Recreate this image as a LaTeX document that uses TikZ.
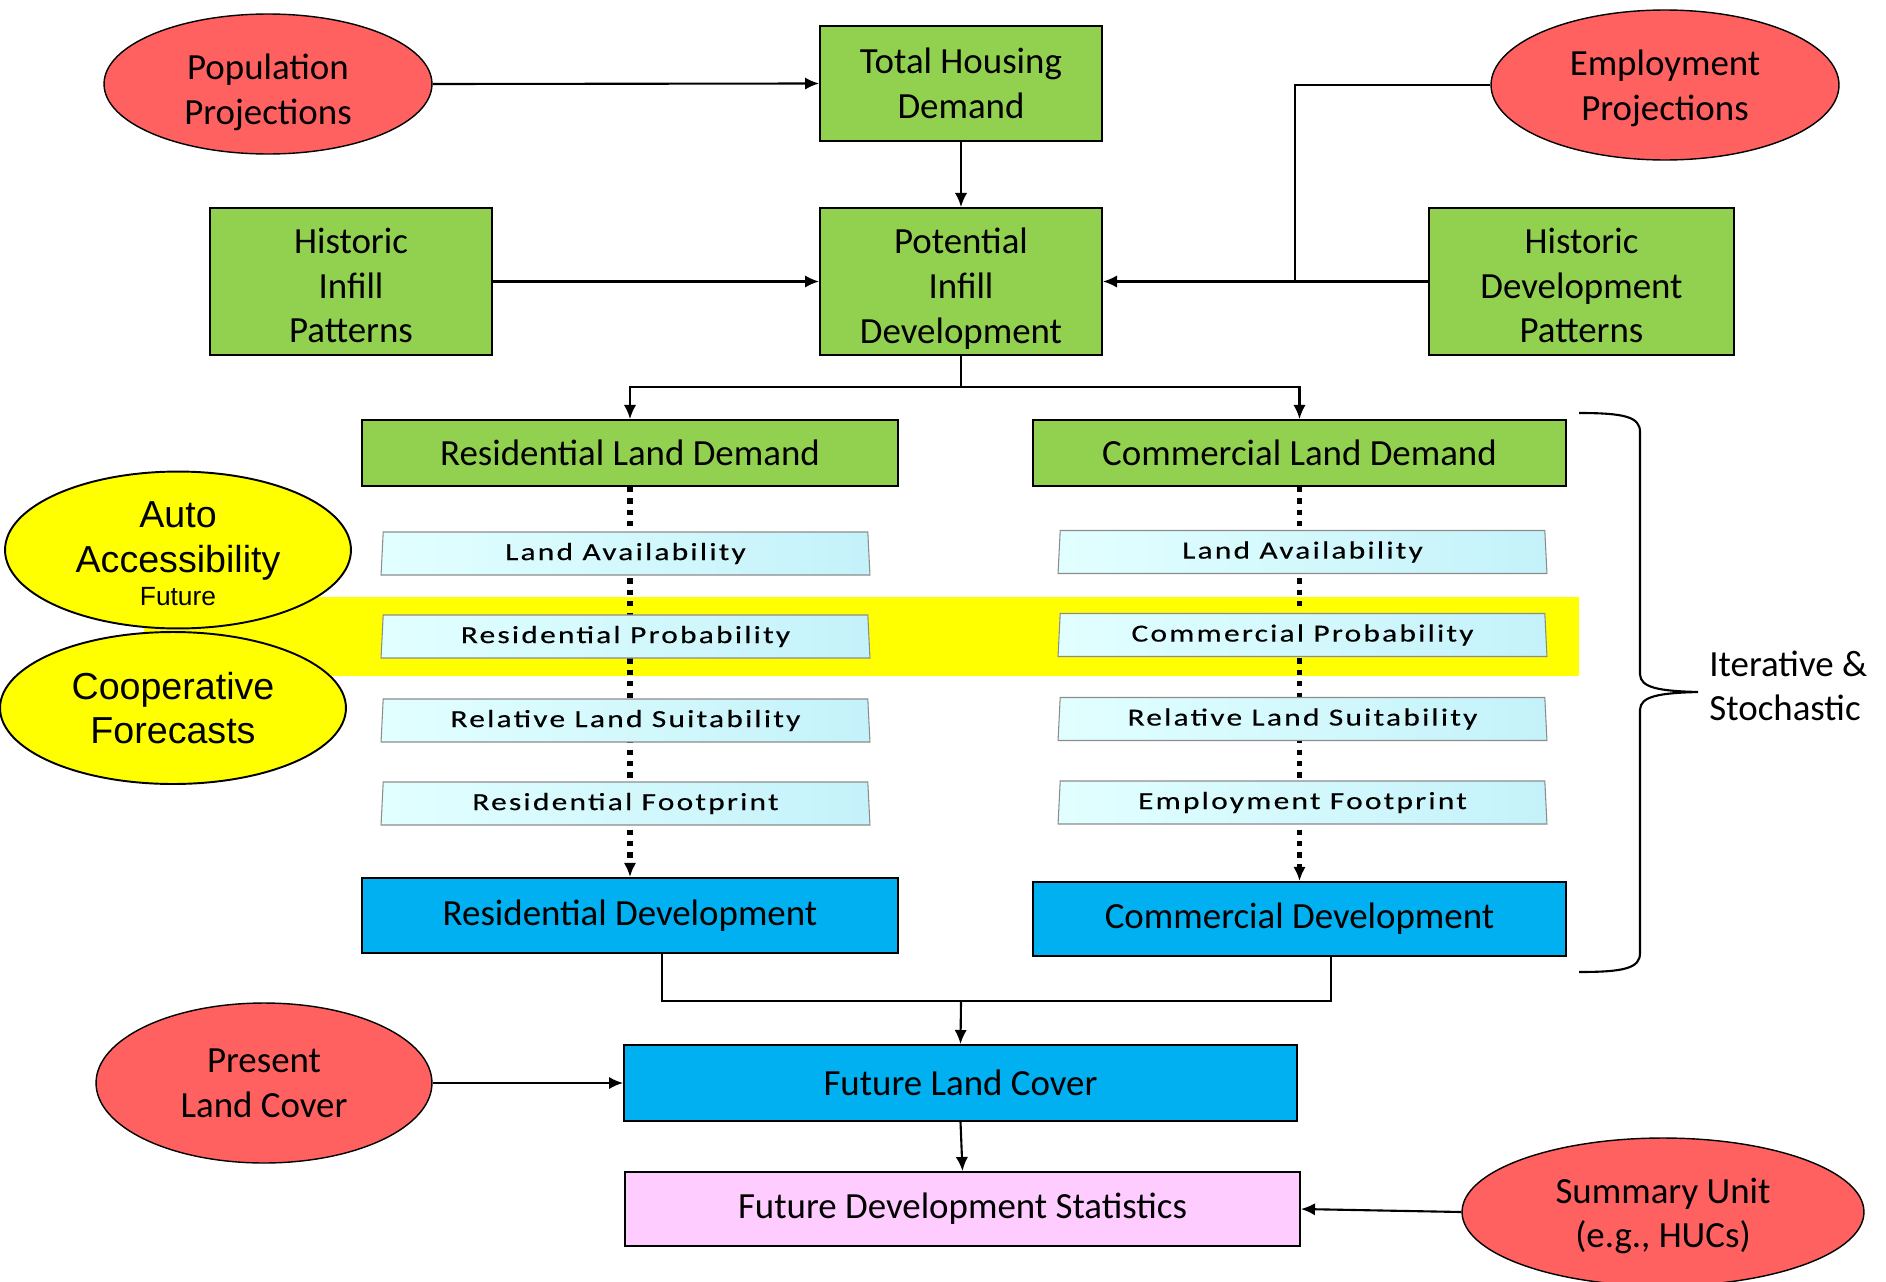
\documentclass[tikz,border=0pt]{standalone}
\usepackage{fontspec}
\setmainfont{Carlito}
\newfontfamily\arialfont{Liberation Sans}
\newfontfamily\layerfont[FakeStretch=1.28,LetterSpace=9,FakeBold=0.3]{Carlito}
\usetikzlibrary{shapes.geometric,arrows.meta,backgrounds}

\definecolor{boxgreen}{HTML}{92D050}
\definecolor{boxblue}{HTML}{00B0F0}
\definecolor{boxpink}{HTML}{FFCCFF}
\definecolor{ovalred}{HTML}{FF6161}
\definecolor{ovalyellow}{HTML}{FFFF00}
\definecolor{layerleft}{HTML}{E2FFFF}
\definecolor{layerright}{HTML}{C4F2FA}

% zet de eerste regel wat lager in een knoop
\newcommand{\lift}[1]{\rule{0pt}{#1}}

\begin{document}
\begin{tikzpicture}[x=0.02cm, y=-0.02cm, >={Latex[length=8pt,width=7pt]}]

% --- Global TikZ Styles ---
\tikzset{
    box/.style={draw=black, line width=1.1pt, align=center, inner sep=2pt,
        font=\fontsize{21}{25.5}\selectfont},
    greenbox/.style={box, fill=boxgreen},
    bluebox/.style={box, fill=boxblue},
    pinkbox/.style={box, fill=boxpink},
    redoval/.style={ellipse, draw=black, line width=0.8pt, fill=ovalred,
        inner sep=0pt, align=center, font=\fontsize{21}{25.5}\selectfont},
    yellowoval/.style={ellipse, draw=black, line width=1.1pt, fill=ovalyellow,
        inner sep=0pt, align=center, font=\arialfont\fontsize{21.4}{25.5}\selectfont},
    layer/.style={trapezium, trapezium left angle=85, trapezium right angle=85,
        trapezium stretches body=true, draw=black!45, line width=0.6pt,
        left color=layerleft, right color=layerright,
        minimum width=9.78cm, minimum height=0.86cm, inner sep=1pt,
        font=\layerfont\fontsize{14}{16}\selectfont},
    arrow/.style={->, line width=1.2pt},
    dotarrow/.style={->, line width=3pt, dash pattern=on 3pt off 3.5pt}
}

\useasboundingbox (0,0) rectangle (1886,1281);

% --- Gele band achter de kansen ---
\begin{scope}[on background layer]
    \fill[ovalyellow] (144,597) rectangle (1579,676);
\end{scope}

% --- Bovenste rij ---
\node[redoval, minimum width=6.56cm, minimum height=2.8cm] (pop) at (268,84) {\lift{24pt}Population\\Projections};
\node[greenbox, minimum width=5.64cm, minimum height=2.3cm] (thd) at (961,83.5) {Total Housing\\Demand};
\node[redoval, minimum width=6.96cm, minimum height=3cm] (emp) at (1665,85) {\lift{18pt}Employment\\Projections};

% --- Tweede rij ---
\node[greenbox, minimum width=5.64cm, minimum height=2.94cm] (hip) at (351,281.5) {\lift{19pt}Historic\\Infill\\Patterns};
\node[greenbox, minimum width=5.64cm, minimum height=2.94cm] (pid) at (961,281.5) {\lift{22.5pt}Potential\\Infill\\Development};
\node[greenbox, minimum width=6.1cm, minimum height=2.94cm] (hdp) at (1581.5,281.5) {\lift{19pt}Historic\\Development\\Patterns};

% --- Vraag ---
\node[greenbox, minimum width=10.72cm, minimum height=1.32cm] (rld) at (630,453) {Residential Land Demand};
\node[greenbox, minimum width=10.66cm, minimum height=1.32cm] (cld) at (1299.5,453) {Commercial Land Demand};

% --- Invoer links ---
\node[yellowoval, minimum width=6.92cm, minimum height=3.04cm] (auto) at (178,550) {\lift{19pt}Auto\\Accessibility\\[-7pt]{\fontsize{15}{17}\selectfont Future}};
\node[yellowoval, minimum width=6.92cm, minimum height=3.04cm] (coop) at (173,708) {Cooperative\\Forecasts};

% --- Lagen (residentieel) ---
\node[layer] (la1) at (625.5,553.5) {Land Availability};
\node[layer] (la2) at (625.5,636.5) {Residential Probability};
\node[layer] (la3) at (625.5,720.5) {Relative Land Suitability};
\node[layer] (la4) at (625.5,803.5) {Residential Footprint};

% --- Lagen (commercieel) ---
\node[layer] (lb1) at (1302.5,552) {Land Availability};
\node[layer] (lb2) at (1302.5,635) {Commercial Probability};
\node[layer] (lb3) at (1302.5,719) {Relative Land Suitability};
\node[layer] (lb4) at (1302.5,802.5) {Employment Footprint};

% --- Ontwikkeling ---
\node[bluebox, minimum width=10.72cm, minimum height=1.5cm] (rdev) at (630,915.5) {Residential Development};
\node[bluebox, minimum width=10.66cm, minimum height=1.48cm] (cdev) at (1299.5,919) {Commercial Development};

% --- Onderste rijen ---
\node[redoval, minimum width=6.72cm, minimum height=3.2cm] (plc) at (264,1083) {Present\\Land Cover};
\node[bluebox, minimum width=13.46cm, minimum height=1.52cm] (flc) at (960.5,1083) {Future Land Cover};
\node[pinkbox, minimum width=13.5cm, minimum height=1.48cm] (fds) at (962.5,1209) {Future Development Statistics};
\node[redoval, minimum width=8.04cm, minimum height=2.96cm] (sum) at (1663,1212) {\lift{19pt}Summary Unit\\(e.g., HUCs)};

% --- Accolade ---
\draw[line width=1.2pt] (1579,413) .. controls (1625,413) and (1640,417) .. (1640,432)
    -- (1640,674) .. controls (1640,688) and (1660,691) .. (1698,692)
    .. controls (1660,693) and (1640,696) .. (1640,710)
    -- (1640,953) .. controls (1640,968) and (1625,972) .. (1579,972);
\node[anchor=west, align=left, inner sep=0pt, font=\fontsize{21}{25}\selectfont] (iter) at (1709,686) {Iterative \&\\Stochastic};

% ==========================================
% --- Pijlen ---
% ==========================================
\coordinate (jn) at (1295,281.5);
\coordinate (split) at (961,387);
\coordinate (merge) at (961,1001);

\draw[arrow] (pop.east) -- (thd.west);
\draw[arrow] (thd.south) -- (pid.north);
\draw[arrow] (hip.east) -- (pid.west);
\draw[line width=1.2pt] (emp.west) -| (jn);
\draw[arrow] (hdp.west) -- (pid.east);

\draw[line width=1.2pt] (pid.south) -- (split);
\draw[arrow] (split) -| (rld.north);
\draw[arrow] (split) -| (cld.north);

\begin{scope}[on background layer]
    \draw[dotarrow] (rld.south) -- (rdev.north);
    \draw[dotarrow] (cld.south) -- (cdev.north);
\end{scope}

\draw[line width=1.2pt] ([xshift=0.64cm]rdev.south) |- (merge) -| ([xshift=0.63cm]cdev.south);
\draw[arrow] (merge) -- (flc.north);
\draw[arrow] (plc.east) -- (flc.west);
\draw[arrow] (flc.south) -- (fds.north);
\draw[arrow] (sum.west) -- (fds.east);

\end{tikzpicture}
\end{document}
